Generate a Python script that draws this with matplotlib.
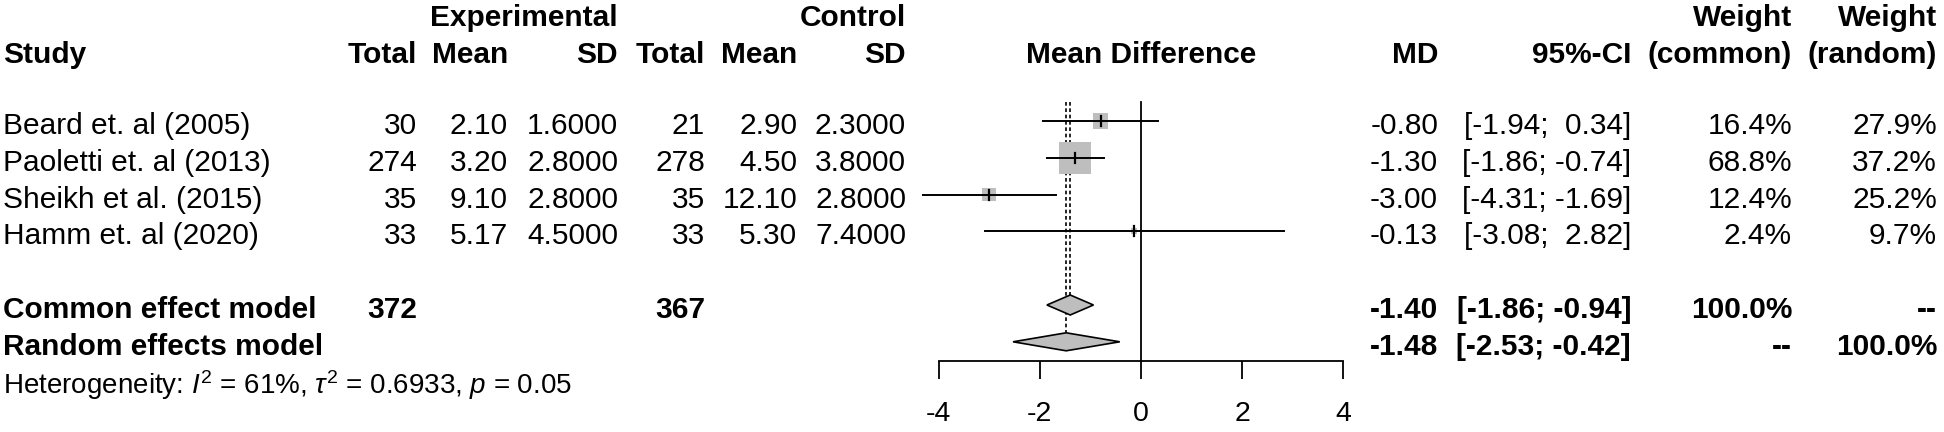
import numpy as np
import matplotlib
matplotlib.use("Agg")
import matplotlib.pyplot as plt
from matplotlib.patches import Rectangle, Polygon
from matplotlib.transforms import blended_transform_factory

# ---------------- data ----------------
studies = ["Beard et. al (2005)", "Paoletti et. al (2013)", "Sheikh et al. (2015)", "Hamm et. al (2020)"]
exp_total = ["30", "274", "35", "33"]
exp_mean = ["2.10", "3.20", "9.10", "5.17"]
exp_sd = ["1.6000", "2.8000", "2.8000", "4.5000"]
ctl_total = ["21", "278", "35", "33"]
ctl_mean = ["2.90", "4.50", "12.10", "5.30"]
ctl_sd = ["2.3000", "3.8000", "2.8000", "7.4000"]
md = [-0.80, -1.30, -3.00, -0.13]
ci_lo = [-1.94, -1.86, -4.31, -3.08]
ci_hi = [0.34, -0.74, -1.69, 2.82]
ci_text = ["[-1.94;  0.34]", "[-1.86; -0.74]", "[-4.31; -1.69]", "[-3.08;  2.82]"]
w_common = [16.4, 68.8, 12.4, 2.4]
w_random = [27.9, 37.2, 25.2, 9.7]

models = ["Common effect model", "Random effects model"]
model_exp_total = ["372", ""]
model_ctl_total = ["367", ""]
model_md = [-1.40, -1.48]
model_lo = [-1.86, -2.53]
model_hi = [-0.94, -0.42]
model_ci_text = ["[-1.86; -0.94]", "[-2.53; -0.42]"]
model_w_common = ["100.0%", "--"]
model_w_random = ["--", "100.0%"]
hetero = r"Heterogeneity: $I^2$ = 61%, $\tau^2$ = 0.6933, $p$ = 0.05"
xticks = [-4, -2, 0, 2, 4]

# ---------------- style ----------------
FONT = "Liberation Sans"
plt.rcParams["font.family"] = [FONT, "DejaVu Sans"]
plt.rcParams["mathtext.fontset"] = "custom"
plt.rcParams["mathtext.rm"] = FONT
plt.rcParams["mathtext.it"] = FONT + ":italic"
plt.rcParams["mathtext.bf"] = FONT + ":bold"
FS = 21.5
FS_HET = 20
SQ_COL = "#BEBEBE"

W, H = 1944, 432
fig = plt.figure(figsize=(W / 100, H / 100), dpi=100)

# forest axes: x from -4 (px 938.7) to 4 (px 1343.3); bottom spine at px 360.7
x0_px, x1_px = 938.7, 1343.3
row0_px, row_step = 121.0, 36.8
axis_px = 360.7
axf = fig.add_axes([x0_px / W, (H - axis_px) / H, (x1_px - x0_px) / W, axis_px / H])
axf.set_xlim(-4, 4)
axf.set_ylim((axis_px - row0_px) / row_step, -row0_px / row_step)
axf.patch.set_alpha(0)
for s in ["top", "left", "right"]:
    axf.spines[s].set_visible(False)
axf.spines["bottom"].set_linewidth(1.3)
axf.set_yticks([])
axf.set_xticks(xticks)
axf.set_xticklabels([str(t) for t in xticks])
axf.tick_params(axis="x", direction="out", length=13, width=1.3, pad=16, labelsize=20.5)

xu_per_px = 8 / (x1_px - x0_px)
ry_per_px = 1 / row_step

n = len(studies)
rows = np.arange(n)
model_rows = [n + 1, n + 2]
top_row = (102 - row0_px) / row_step

# zero line
axf.plot([0, 0], [top_row, axf.get_ylim()[0]], color="black", lw=1.3, clip_on=False)
# pooled-effect dashed lines
dh = 10 * ry_per_px
for m, r in zip(model_md, model_rows):
    axf.plot([m, m], [top_row, r - dh], color="black", lw=1.2,
             linestyle=(0, (2.2, 1.6)), clip_on=False)

# study squares and CIs
wmax = max(w_common)
for i in range(n):
    side = 32 * np.sqrt(w_common[i] / wmax)
    axf.add_patch(Rectangle((md[i] - side * xu_per_px / 2, rows[i] - side * ry_per_px / 2),
                            side * xu_per_px, side * ry_per_px, facecolor=SQ_COL,
                            edgecolor="none", clip_on=False, zorder=2))
    axf.plot([ci_lo[i], ci_hi[i]], [rows[i], rows[i]], color="black", lw=1.4,
             clip_on=False, zorder=3)
    axf.plot([md[i], md[i]], [rows[i] - 5 * ry_per_px, rows[i] + 5 * ry_per_px],
             color="black", lw=1.6, clip_on=False, zorder=3)

# diamonds
for m, lo, hi, r, hh in zip(model_md, model_lo, model_hi, model_rows, [10, 9]):
    h = hh * ry_per_px
    axf.add_patch(Polygon([[lo, r], [m, r - h], [hi, r], [m, r + h]], closed=True,
                          facecolor=SQ_COL, edgecolor="black", lw=1.2, clip_on=False, zorder=3))

# ---------------- text columns ----------------
tr = blended_transform_factory(fig.transFigure, axf.transData)
cols = {
    "study": 3, "et": 417, "em": 508, "es": 618, "ct": 705, "cm": 797, "cs": 906,
    "md": 1438, "ci": 1631, "wc": 1792, "wr": 1937,
}
fx = {k: v / W for k, v in cols.items()}
TOFF = 5 * ry_per_px          # text sits slightly below the row line
h1 = (18 - row0_px) / row_step
h2 = (55 - row0_px) / row_step


def txt(key, row, s, ha="right", bold=False, size=FS):
    fig.text(fx[key], row, s, transform=tr, ha=ha, va="center", fontsize=size,
             fontweight="bold" if bold else "normal", color="black")


txt("es", h1, "Experimental", bold=True)
txt("cs", h1, "Control", bold=True)
txt("wc", h1, "Weight", bold=True)
txt("wr", h1, "Weight", bold=True)

txt("study", h2, "Study", ha="left", bold=True)
for k, s in [("et", "Total"), ("em", "Mean"), ("es", "SD"), ("ct", "Total"),
             ("cm", "Mean"), ("cs", "SD"), ("md", "MD"), ("ci", "95%-CI"),
             ("wc", "(common)"), ("wr", "(random)")]:
    txt(k, h2, s, bold=True)
fig.text(0.5, h2, "Mean Difference", transform=blended_transform_factory(axf.transAxes, axf.transData),
         ha="center", va="center", fontsize=FS, fontweight="bold")

for i in range(n):
    r = rows[i] + TOFF
    txt("study", r, studies[i], ha="left")
    txt("et", r, exp_total[i])
    txt("em", r, exp_mean[i])
    txt("es", r, exp_sd[i])
    txt("ct", r, ctl_total[i])
    txt("cm", r, ctl_mean[i])
    txt("cs", r, ctl_sd[i])
    txt("md", r, f"{md[i]:.2f}")
    txt("ci", r, ci_text[i])
    txt("wc", r, f"{w_common[i]:.1f}%")
    txt("wr", r, f"{w_random[i]:.1f}%")

for j, mr in enumerate(model_rows):
    r = mr + TOFF
    txt("study", r, models[j], ha="left", bold=True)
    txt("et", r, model_exp_total[j], bold=True)
    txt("ct", r, model_ctl_total[j], bold=True)
    txt("md", r, f"{model_md[j]:.2f}", bold=True)
    txt("ci", r, model_ci_text[j], bold=True)
    txt("wc", r, model_w_common[j], bold=True)
    txt("wr", r, model_w_random[j], bold=True)

txt("study", (385 - row0_px) / row_step, hetero, ha="left", size=FS_HET)

fig.savefig("out.png", dpi=100)
